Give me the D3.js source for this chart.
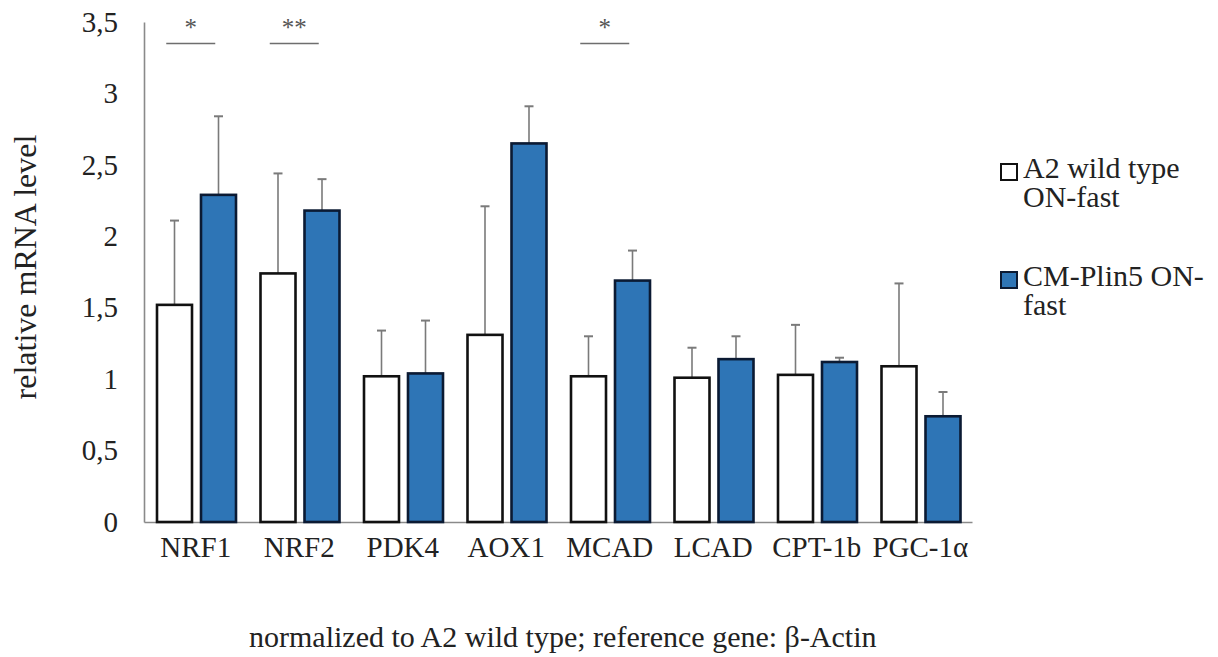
<!DOCTYPE html>
<html>
<head>
<meta charset="utf-8">
<script src="https://cdn.jsdelivr.net/npm/d3@7"></script>
<style>
  html, body { margin: 0; padding: 0; background: #fff; }
  svg { display: block; }
</style>
</head>
<body>
<svg id="chart" width="1218" height="657"></svg>
<script>
// ---- data ----
const categories = ["NRF1", "NRF2", "PDK4", "AOX1", "MCAD", "LCAD", "CPT-1b", "PGC-1α"];
const seriesNames = ["A2 wild type ON-fast", "CM-Plin5 ON-fast"];
const wildType    = [1.52, 1.74, 1.02, 1.31, 1.02, 1.01, 1.03, 1.09];
const wildTypeErr = [0.59, 0.70, 0.32, 0.90, 0.28, 0.21, 0.35, 0.58];
const plin5       = [2.29, 2.18, 1.04, 2.65, 1.69, 1.14, 1.12, 0.74];
const plin5Err    = [0.55, 0.22, 0.37, 0.26, 0.21, 0.16, 0.03, 0.17];
const yTickValues = [0, 0.5, 1, 1.5, 2, 2.5, 3, 3.5];
const yTickLabels = ["0", "0,5", "1", "1,5", "2", "2,5", "3", "3,5"];
const significance = [
  { category: "NRF1", label: "*" },
  { category: "NRF2", label: "**" },
  { category: "MCAD", label: "*" }
];
const legendLines = [["A2 wild type", "ON-fast"], ["CM-Plin5 ON-", "fast"]];
const yTitle = "relative mRNA level";
const caption = "normalized to A2 wild type; reference gene: β-Actin";

// ---- layout ----
const FONT = "'Liberation Serif', 'Times New Roman', serif";
const svg = d3.select("#chart");
const plot = { left: 144, right: 972, top: 22, bottom: 522 };
const fills = ["#ffffff", "#2e75b6"];
const strokes = ["#111111", "#0b1a33"];

const x0 = d3.scaleBand().domain(categories).range([plot.left, plot.right]).padding(0);
const x1 = d3.scaleBand().domain(seriesNames).range([13, 92]).paddingInner(0.2045).paddingOuter(0);
const y = d3.scaleLinear().domain([0, 3.5]).range([plot.bottom, plot.top]);

const rows = categories.map((c, i) => ({
  category: c,
  values: [
    { s: seriesNames[0], v: wildType[i], e: wildTypeErr[i], k: 0 },
    { s: seriesNames[1], v: plin5[i], e: plin5Err[i], k: 1 }
  ]
}));

// y axis
const yAxis = d3.axisLeft(y).tickValues(yTickValues)
  .tickFormat((d, i) => yTickLabels[i]).tickSize(0).tickPadding(26);
const gy = svg.append("g").attr("transform", `translate(${plot.left},0)`).call(yAxis);
gy.select(".domain").attr("stroke", "#8a8a8a").attr("stroke-width", 1.6);
gy.selectAll("text").attr("font-size", 29).attr("fill", "#222");

// x axis
const xAxis = d3.axisBottom(x0).tickSize(0).tickPadding(14);
const gx = svg.append("g").attr("transform", `translate(0,${plot.bottom})`).call(xAxis);
gx.select(".domain").attr("stroke", "#8a8a8a").attr("stroke-width", 1.6);
gx.selectAll("text").attr("font-size", 29).attr("fill", "#222");

// error bars (upper only)
const groups = svg.append("g").selectAll("g").data(rows).join("g")
  .attr("transform", d => `translate(${x0(d.category)},0)`);

groups.selectAll("line.err").data(d => d.values).join("line")
  .attr("class", "err")
  .attr("x1", d => x1(d.s) + x1.bandwidth() / 2)
  .attr("x2", d => x1(d.s) + x1.bandwidth() / 2)
  .attr("y1", d => y(d.v))
  .attr("y2", d => y(d.v + d.e))
  .attr("stroke", "#7a7a7a").attr("stroke-width", 1.6);
groups.selectAll("line.cap").data(d => d.values).join("line")
  .attr("class", "cap")
  .attr("x1", d => x1(d.s) + x1.bandwidth() / 2 - 4.5)
  .attr("x2", d => x1(d.s) + x1.bandwidth() / 2 + 4.5)
  .attr("y1", d => y(d.v + d.e))
  .attr("y2", d => y(d.v + d.e))
  .attr("stroke", "#7a7a7a").attr("stroke-width", 2);

// bars
groups.selectAll("rect").data(d => d.values).join("rect")
  .attr("x", d => x1(d.s))
  .attr("width", x1.bandwidth())
  .attr("y", d => y(d.v))
  .attr("height", d => y(0) - y(d.v))
  .attr("fill", d => fills[d.k])
  .attr("stroke", d => strokes[d.k])
  .attr("stroke-width", 2.6);

// significance markers
const sig = svg.append("g").selectAll("g").data(significance).join("g")
  .attr("transform", d => `translate(${x0(d.category) + x0.bandwidth() / 2 - 5},0)`);
sig.append("line")
  .attr("x1", -24.5).attr("x2", 24.5)
  .attr("y1", y(3.35)).attr("y2", y(3.35))
  .attr("stroke", "#6e6e6e").attr("stroke-width", 1.6);
sig.append("text")
  .attr("text-anchor", "middle")
  .attr("y", 36)
  .attr("font-size", 25)
  .attr("fill", "#555")
  .text(d => d.label);

// y axis title
svg.append("text")
  .attr("transform", `translate(36,${(plot.top + plot.bottom) / 2 - 5}) rotate(-90)`)
  .attr("text-anchor", "middle")
  .attr("font-size", 32)
  .attr("fill", "#222")
  .text(yTitle);

// caption
svg.append("text")
  .attr("x", 249).attr("y", 647)
  .attr("font-size", 30)
  .attr("fill", "#222")
  .text(caption);

// legend
const legend = svg.append("g").selectAll("g").data(seriesNames).join("g")
  .attr("transform", (d, i) => `translate(1001,${164 + i * 108})`);
legend.append("rect")
  .attr("width", 16).attr("height", 16)
  .attr("fill", (d, i) => fills[i])
  .attr("stroke", (d, i) => strokes[i])
  .attr("stroke-width", 2);
legend.append("text")
  .attr("x", 22).attr("y", 14)
  .attr("font-size", 30)
  .attr("fill", "#222")
  .selectAll("tspan").data((d, i) => legendLines[i]).join("tspan")
  .attr("x", 22)
  .attr("dy", (d, j) => j === 0 ? 0 : 29)
  .text(d => d);

// serif font everywhere
svg.selectAll("text").attr("font-family", null).style("font-family", FONT);
svg.selectAll("g").attr("font-family", null);
</script>
</body>
</html>
